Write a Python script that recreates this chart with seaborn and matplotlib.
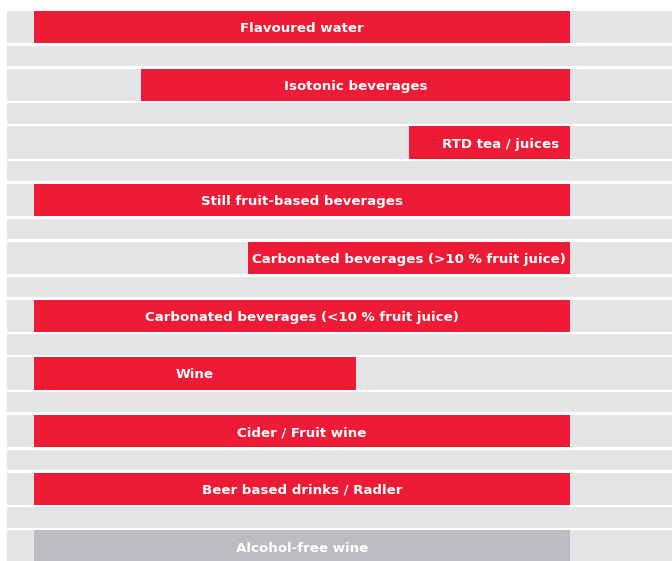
import matplotlib
matplotlib.use("Agg")
import matplotlib.pyplot as plt
import pandas as pd
import seaborn as sns

sns.set_theme(style="white")
plt.rcParams["font.family"] = ["DejaVu Sans"]

categories = [
    "Flavoured water",
    "Isotonic beverages",
    "RTD tea / juices",
    "Still fruit-based beverages",
    "Carbonated beverages (>10 % fruit juice)",
    "Carbonated beverages (<10 % fruit juice)",
    "Wine",
    "Cider / Fruit wine",
    "Beer based drinks / Radler",
    "Alcohol-free wine",
]
start = [0, 1, 3.5, 0, 2, 0, 0, 0, 0, 0]
end = [5, 5, 5, 5, 5, 5, 3, 5, 5, 5]
highlight = [True] * 9 + [False]

df = pd.DataFrame({"category": categories, "start": start, "end": end,
                   "highlight": highlight})
df["row"] = range(len(df))

RED = "#ed1b35"
GREY_BAR = "#bcbdc0"
BG = "#e4e5e7"

fig = plt.figure(figsize=(6.72, 5.61), dpi=100)
ax = fig.add_axes([7 / 672, 0, 665 / 672, 550 / 561])
ax.set_facecolor(BG)

# thin white separators between the grey bands
for r in df["row"]:
    ax.axhspan(r + 0.28, r + 0.322, color="white", lw=0, zorder=1)
    ax.axhspan(r + 0.673, r + 0.72, color="white", lw=0, zorder=1)

colors = [RED if h else GREY_BAR for h in df["highlight"]]
ax.barh(df["row"], df["end"] - df["start"], left=df["start"],
        height=0.56, color=colors, edgecolor="none", zorder=2)

for _, d in df.iterrows():
    if d["category"] == "RTD tea / juices":
        x, ha = d["end"] - 0.1, "right"
    else:
        x, ha = (d["start"] + d["end"]) / 2, "center"
    ax.text(x, d["row"] + 0.025, d["category"], ha=ha, va="center",
            color="white", fontsize=9.6, fontweight="bold", zorder=3)

ax.set_xlim(-0.252, 5.951)
ax.set_ylim(9.25, -0.28)
ax.set_xticks([])
ax.set_yticks([])
sns.despine(ax=ax, left=True, bottom=True)

fig.savefig("out.png", dpi=100, facecolor="white")
